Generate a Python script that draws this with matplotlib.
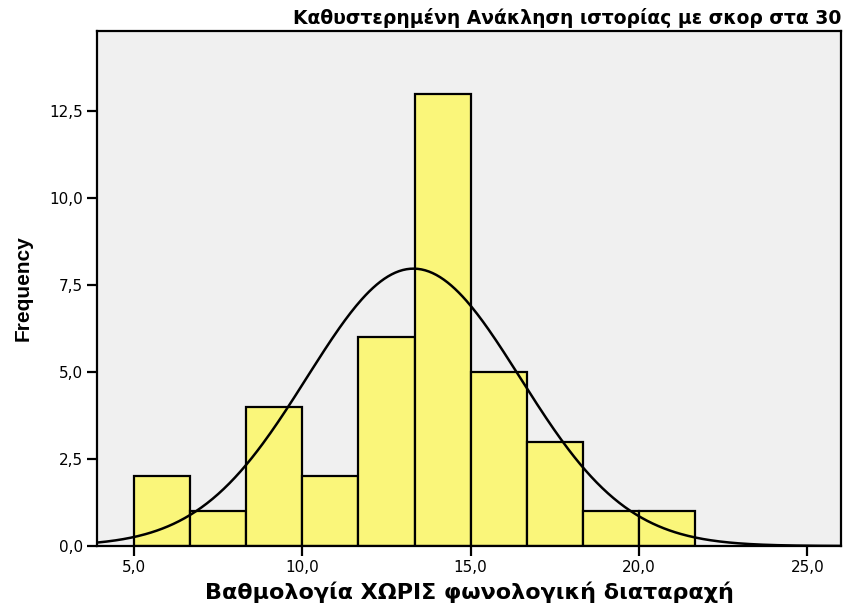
import numpy as np
import matplotlib
matplotlib.use("Agg")
import matplotlib.pyplot as plt
from matplotlib.ticker import FuncFormatter

plt.rcParams['font.family'] = ['DejaVu Sans']

# histogram bins and counts
bin_edges = [5.0, 6.667, 8.333, 10.0, 11.667, 13.333, 15.0, 16.667, 18.333, 20.0, 21.667]
counts = [2, 1, 4, 2, 6, 13, 5, 3, 1, 1]
# fitted normal curve
mean = 13.3
sd = 3.17
n = sum(counts)

x_ticks = [5.0, 10.0, 15.0, 20.0, 25.0]
y_ticks = [0.0, 2.5, 5.0, 7.5, 10.0, 12.5]

title = "Καθυστερημένη Ανάκληση ιστορίας με σκορ στα 30"
xlabel = "Βαθμολογία ΧΩΡΙΣ φωνολογική διαταραχή"
ylabel = "Frequency"

fig = plt.figure(figsize=(8.52, 6.10), dpi=100)
ax = fig.add_axes([97 / 852, 1 - 546 / 610, (841 - 97) / 852, (546 - 31) / 610])
ax.set_facecolor("#f0f0f0")

widths = np.diff(bin_edges)
ax.bar(bin_edges[:-1], counts, width=widths, align="edge",
       color="#faf67a", edgecolor="black", linewidth=1.6, zorder=2)

bw = widths.mean()
xs = np.linspace(3.9, 26.0, 400)
ys = n * bw / (sd * np.sqrt(2 * np.pi)) * np.exp(-0.5 * ((xs - mean) / sd) ** 2)
ax.plot(xs, ys, color="black", linewidth=1.8, zorder=3)

ax.set_xlim(3.9, 26.0)
ax.set_ylim(0, 14.8)
ax.set_xticks(x_ticks)
ax.set_yticks(y_ticks)
fmt = FuncFormatter(lambda v, p: f"{v:.1f}".replace(".", ","))
ax.xaxis.set_major_formatter(fmt)
ax.yaxis.set_major_formatter(fmt)
ax.tick_params(axis="both", direction="out", length=7, width=1.6,
               labelsize=11, colors="black", pad=3)
for s in ax.spines.values():
    s.set_linewidth(1.6)
    s.set_color("black")

ax.set_xlabel(xlabel, fontsize=16, fontweight="bold", labelpad=5)
ax.set_ylabel(ylabel, fontsize=15, fontweight="bold", labelpad=12,
              family=['Liberation Sans Narrow', 'Liberation Sans'])
ax.set_title(title, fontsize=13.5, fontweight="bold", loc="right", pad=5)

fig.savefig("out.png", dpi=100, facecolor="white")
